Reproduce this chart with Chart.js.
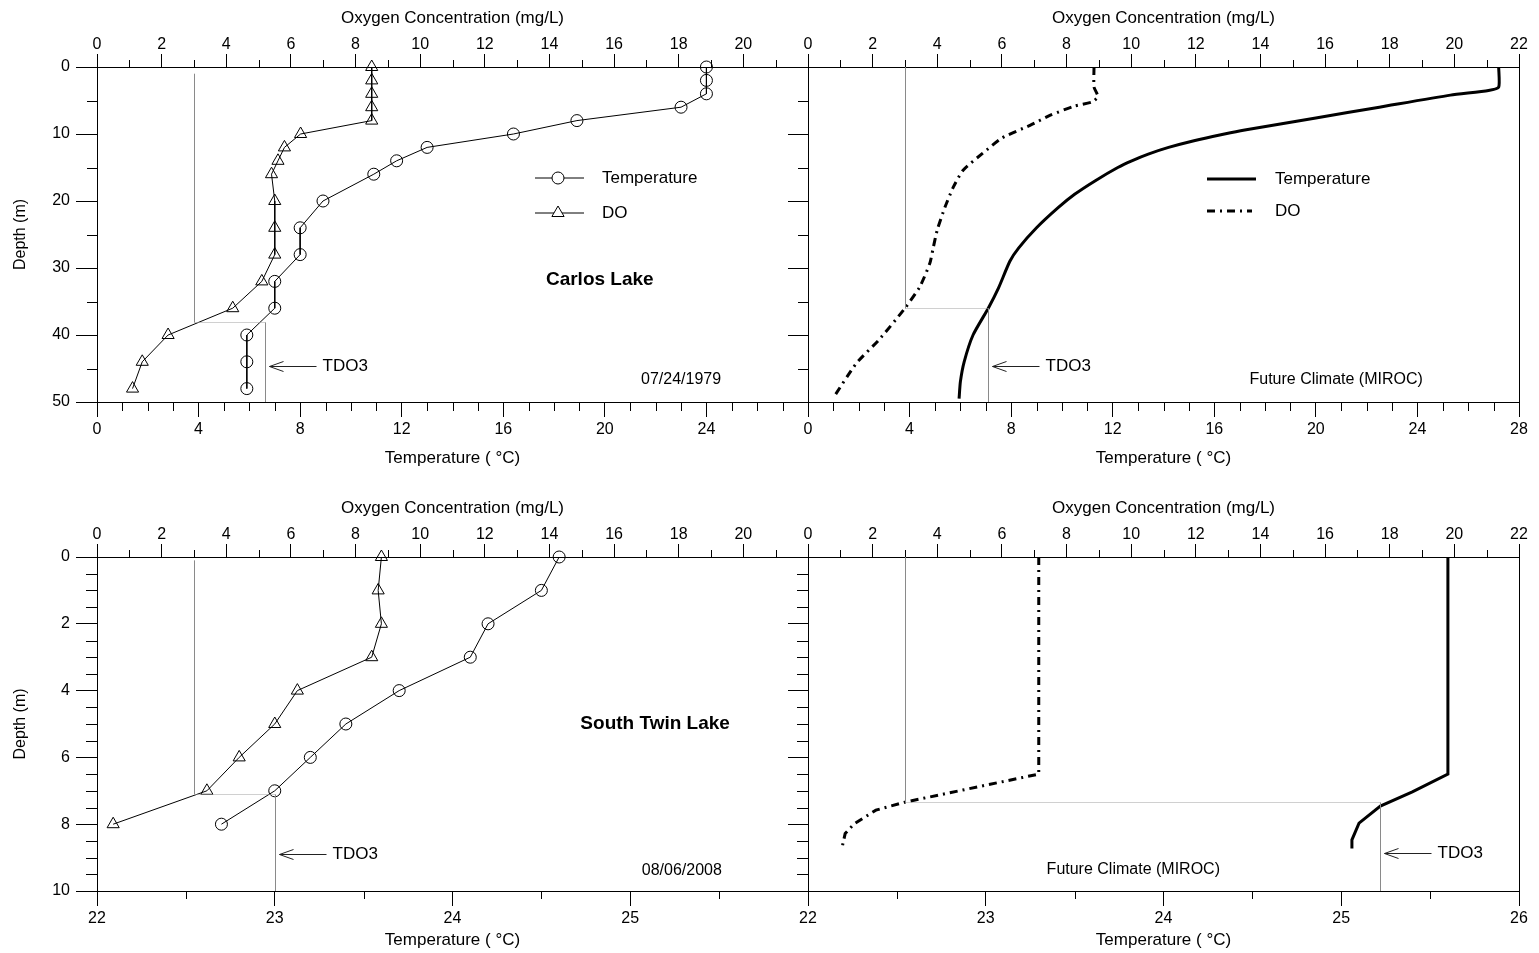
<!DOCTYPE html>
<html>
<head>
<meta charset="utf-8">
<title>Temperature and DO profiles</title>
<script src="https://cdn.jsdelivr.net/npm/chart.js@4"></script>
<style>
  body { margin: 0; background: #fff; }
  canvas { position: absolute; }
</style>
</head>
<body>
<canvas id="carlosObs" width="840" height="475" style="left:0;top:0;width:840px;height:475px"></canvas>
<canvas id="carlosFuture" width="751" height="475" style="left:788px;top:0;width:751px;height:475px"></canvas>
<canvas id="twinObs" width="840" height="463" style="left:0;top:490px;width:840px;height:463px"></canvas>
<canvas id="twinFuture" width="751" height="463" style="left:788px;top:490px;width:751px;height:463px"></canvas>
<script>
// tick labels
const oxygenTicks = [0, 2, 4, 6, 8, 10, 12, 14, 16, 18, 20, 22];
const coldTempTicks = [0, 4, 8, 12, 16, 20, 24, 28];
const warmTempTicks = [22, 23, 24, 25, 26];
const deepTicks = [0, 10, 20, 30, 40, 50];
const shallowTicks = [0, 2, 4, 6, 8, 10];

// Carlos Lake, measured 07/24/1979
const carlosDepth = [0, 2, 4, 6, 8, 10, 12, 14, 16, 20, 24, 28, 32, 36, 40, 44, 48];
const carlosTemp = [24, 24, 24, 23, 18.9, 16.4, 13, 11.8, 10.9, 8.9, 8, 8, 7, 7, 5.9, 5.9, 5.9];
const carlosDO = [8.5, 8.5, 8.5, 8.5, 8.5, 6.3, 5.8, 5.6, 5.4, 5.5, 5.5, 5.5, 5.1, 4.2, 2.2, 1.4, 1.1];

// Carlos Lake, future climate (MIROC)
const carlosFutTempDepth = [0, 3, 3.5, 4.2, 6, 7.6, 9.4, 10, 11, 12, 13, 14, 15, 17, 19, 21, 24, 27, 29, 33, 36, 40, 44, 47, 49.5];
const carlosFutTemp = [27.2, 27.2, 26.8, 25.3, 22.5, 20, 17.2, 16.4, 15.2, 14.2, 13.4, 12.75, 12.2, 11.3, 10.5, 9.85, 9, 8.3, 7.95, 7.5, 7.1, 6.5, 6.15, 6, 5.95];
const carlosFutDODepth = [0, 3, 4.4, 5.2, 5.9, 7.2, 8.7, 10.6, 12.9, 15.4, 17.9, 20.9, 24.3, 27.1, 29.3, 32.8, 36, 40.7, 44.2, 49.4];
const carlosFutDO = [8.85, 8.85, 8.97, 8.8, 8.2, 7.5, 6.87, 6, 5.4, 4.8, 4.5, 4.24, 4, 3.87, 3.77, 3.46, 3, 2.2, 1.5, 0.78];

// South Twin Lake, measured 08/06/2008
const twinDepth = [0, 1, 2, 3, 4, 5, 6, 7, 8];
const twinTemp = [24.6, 24.5, 24.2, 24.1, 23.7, 23.4, 23.2, 23, 22.7];
const twinDO = [8.8, 8.7, 8.8, 8.5, 6.2, 5.5, 4.4, 3.4, 0.5];

// South Twin Lake, future climate (MIROC)
const twinFutTempDepth = [0, 6.5, 7.03, 7.46, 7.97, 8.47, 8.73];
const twinFutTemp = [25.6, 25.6, 25.4, 25.22, 25.1, 25.06, 25.06];
const twinFutDODepth = [0, 6.5, 7.34, 7.58, 7.98, 8.28, 8.63];
const twinFutDO = [7.14, 7.14, 3, 2.1, 1.44, 1.15, 1.07];

// TDO3 (temperature where DO = 3 mg/L), one per panel
const doLimit = 3;
const tdo3Depth = [38, 36, 7.1, 7.34];
const tdo3Temp = [6.6, 7.1, 23, 25.22];

Chart.defaults.font.family = 'Arial, "Liberation Sans", sans-serif';
Chart.defaults.font.size = 16;
Chart.defaults.color = '#000';

const fontFamily = 'Arial, "Liberation Sans", sans-serif';

let toPoints = function (xs, depths) {
  return depths.map((d, i) => ({ x: xs[i], y: d }));
};

let observedSets = function (temp, DO, depth) {
  const common = {
    showLine: true, borderColor: '#000', borderWidth: 1, clip: false,
    pointBorderColor: '#000', pointBorderWidth: 1, pointBackgroundColor: 'rgba(0,0,0,0)'
  };
  return [
    Object.assign({ label: 'Temperature', data: toPoints(temp, depth), xAxisID: 'x', pointStyle: 'circle', pointRadius: 6 }, common),
    Object.assign({ label: 'DO', data: toPoints(DO, depth), xAxisID: 'x2', pointStyle: 'triangle', pointRadius: 7 }, common)
  ];
};

let modelSets = function (temp, tempDepth, DO, doDepth, tension) {
  const common = { showLine: true, borderColor: '#000', borderWidth: 3, pointRadius: 0, clip: false, tension: tension };
  return [
    Object.assign({ label: 'Temperature', data: toPoints(temp, tempDepth), xAxisID: 'x' }, common),
    Object.assign({ label: 'DO', data: toPoints(DO, doDepth), xAxisID: 'x2', borderDash: [8, 5, 2, 5] }, common)
  ];
};

// short ticks between the labelled ones
let minorTicks = function (minor) {
  return {
    id: 'minorTicks',
    afterDraw(chart) {
      const { ctx, chartArea: a } = chart;
      ctx.save();
      ctx.strokeStyle = '#000';
      ctx.lineWidth = 1;
      ctx.beginPath();
      minor.forEach(([id, step, len]) => {
        const s = chart.scales[id];
        for (let k = 1; s.min + k * step < s.max; k++) {
          const v = s.min + k * step;
          if (s.ticks.some(t => Math.abs(t.value - v) < 1e-6)) continue;
          const p = Math.round(s.getPixelForValue(v)) + 0.5;
          if (id === 'y') { ctx.moveTo(a.left, p); ctx.lineTo(a.left - len, p); }
          else if (id === 'x') { ctx.moveTo(p, a.bottom); ctx.lineTo(p, a.bottom + len); }
          else { ctx.moveTo(p, a.top); ctx.lineTo(p, a.top - len); }
        }
      });
      ctx.stroke();
      ctx.restore();
    }
  };
};

// frame, TDO3 guides, notes and legend
let decor = function (p) {
  return {
    id: 'decor',
    afterDatasetsDraw(chart) {
      const { ctx, chartArea: a, scales } = chart;
      const sx = v => scales.x.getPixelForValue(v);
      const so = v => scales.x2.getPixelForValue(v);
      const sy = v => scales.y.getPixelForValue(v);
      const px = v => Math.round(v) + 0.5;
      ctx.save();
      ctx.lineWidth = 1;
      ctx.strokeStyle = '#000';
      ctx.beginPath();
      ctx.moveTo(px(a.right), a.top);
      ctx.lineTo(px(a.right), a.bottom);
      ctx.stroke();

      const xo = px(so(doLimit));
      const xt = px(sx(tdo3Temp[p.idx]));
      const yt = px(sy(tdo3Depth[p.idx]));
      ctx.strokeStyle = '#8a8a8a';
      ctx.beginPath();
      ctx.moveTo(xo, sy(p.guideTop));
      ctx.lineTo(xo, yt);
      ctx.moveTo(xt, yt);
      ctx.lineTo(xt, a.bottom);
      ctx.stroke();
      ctx.setLineDash([1, 1]);
      ctx.strokeStyle = '#a0a0a0';
      ctx.beginPath();
      ctx.moveTo(xo, yt);
      ctx.lineTo(xt, yt);
      ctx.stroke();
      ctx.setLineDash([]);

      const ya = px(sy(p.arrowDepth));
      ctx.strokeStyle = '#222';
      ctx.beginPath();
      ctx.moveTo(xt + 4, ya);
      ctx.lineTo(xt + 51, ya);
      ctx.moveTo(xt + 18, ya - 5);
      ctx.lineTo(xt + 4, ya);
      ctx.lineTo(xt + 18, ya + 5);
      ctx.stroke();
      ctx.fillStyle = '#000';
      ctx.textBaseline = 'middle';
      ctx.textAlign = 'left';
      ctx.font = '17px ' + fontFamily;
      ctx.fillText('TDO3', xt + 57, ya);

      ctx.textAlign = 'center';
      p.notes.forEach(n => {
        ctx.font = n[3] + ' ' + fontFamily;
        ctx.fillText(n[0], sx(n[1]), sy(n[2]));
      });

      if (p.legend) {
        const L = p.legend;
        const x0 = a.left + L.x, x1 = x0 + 49, xm = x0 + 23;
        const y1 = a.top + L.y1, y2 = a.top + L.y2;
        ctx.strokeStyle = '#000';
        ctx.lineWidth = L.markers ? 1 : 3;
        ctx.beginPath();
        ctx.moveTo(x0, y1);
        ctx.lineTo(x1, y1);
        ctx.stroke();
        if (!L.markers) ctx.setLineDash([8, 5, 2, 5]);
        ctx.beginPath();
        ctx.moveTo(x0, y2);
        ctx.lineTo(L.markers ? x1 : x1 - 4, y2);
        ctx.stroke();
        ctx.setLineDash([]);
        if (L.markers) {
          ctx.lineWidth = 1;
          ctx.fillStyle = '#fff';
          ctx.beginPath();
          ctx.arc(xm, y1, 6, 0, Math.PI * 2);
          ctx.fill();
          ctx.stroke();
          ctx.beginPath();
          ctx.moveTo(xm, y2 - 7);
          ctx.lineTo(xm + 6.1, y2 + 3.5);
          ctx.lineTo(xm - 6.1, y2 + 3.5);
          ctx.closePath();
          ctx.fill();
          ctx.stroke();
        }
        ctx.fillStyle = '#000';
        ctx.textAlign = 'left';
        ctx.font = '17px ' + fontFamily;
        ctx.fillText('Temperature', a.left + L.tx, y1);
        ctx.fillText('DO', a.left + L.tx, y2);
      }
      ctx.restore();
    }
  };
};

let profileChart = function (id, p) {
  const t = p.tempTicks;
  const d = p.depthTicks;
  const label = (ticks, i, v) => (p.left && i === ticks.length - 1) ? '' : String(v);
  return new Chart(document.getElementById(id), {
    type: 'scatter',
    data: { datasets: p.datasets },
    options: {
      responsive: false,
      animation: false,
      events: [],
      layout: { padding: { right: p.padRight } },
      plugins: { legend: { display: false }, tooltip: { enabled: false } },
      scales: {
        x: {
          type: 'linear', position: 'bottom', min: t[0], max: t[t.length - 1],
          afterBuildTicks: s => { s.ticks = t.map(v => ({ value: v })); },
          afterFit: s => { s.height = p.bottomH; },
          ticks: { padding: 3, maxRotation: 0, autoSkip: false, callback: (v, i) => label(t, i, v) },
          grid: { drawOnChartArea: false, tickLength: 15, color: '#000' },
          border: { color: '#000' },
          title: { display: true, text: 'Temperature ( °C)', font: { size: 17 }, padding: { top: 0, bottom: p.titleBottom } }
        },
        x2: {
          type: 'linear', position: 'top', min: 0, max: 22,
          afterBuildTicks: s => { s.ticks = oxygenTicks.map(v => ({ value: v })); },
          afterFit: s => { s.height = 67; },
          ticks: { padding: 0, maxRotation: 0, autoSkip: false, callback: (v, i) => label(oxygenTicks, i, v) },
          grid: { drawOnChartArea: false, tickLength: 13, color: '#000' },
          border: { color: '#000' },
          title: { display: true, text: 'Oxygen Concentration (mg/L)', font: { size: 17 }, padding: { top: 8, bottom: 0 } }
        },
        y: {
          type: 'linear', reverse: true, min: d[0], max: d[d.length - 1],
          afterBuildTicks: s => { s.ticks = d.map(v => ({ value: v })); },
          afterFit: s => { s.width = p.left ? 97 : 20; },
          ticks: { padding: 6, autoSkip: false, callback: v => p.left ? String(v) : '' },
          grid: { drawOnChartArea: false, tickLength: 21, color: '#000' },
          border: { color: '#000' },
          title: { display: p.left, text: 'Depth (m)', font: { size: 16 }, padding: { top: 11, bottom: 0 } }
        }
      }
    },
    plugins: [minorTicks(p.minor), decor(p)]
  });
};

profileChart('carlosObs', {
  idx: 0, left: true, padRight: 32, bottomH: 73, titleBottom: 6,
  tempTicks: coldTempTicks, depthTicks: deepTicks,
  datasets: observedSets(carlosTemp, carlosDO, carlosDepth),
  minor: [['x', 1, 9], ['x2', 1, 7], ['y', 5, 10]],
  guideTop: 1, arrowDepth: 44.7,
  notes: [['Carlos Lake', 19.8, 31.8, 'bold 19px'], ['07/24/1979', 23, 46.7, '16px']],
  legend: { x: 438, y1: 111, y2: 146, tx: 505, markers: true }
});

profileChart('carlosFuture', {
  idx: 1, left: false, padRight: 20, bottomH: 73, titleBottom: 6,
  tempTicks: coldTempTicks, depthTicks: deepTicks,
  datasets: modelSets(carlosFutTemp, carlosFutTempDepth, carlosFutDO, carlosFutDODepth, 0.2),
  minor: [['x', 1, 9], ['x2', 1, 7], ['y', 5, 10]],
  guideTop: 0, arrowDepth: 44.7,
  notes: [['Future Climate (MIROC)', 20.8, 46.7, '16px']],
  legend: { x: 399, y1: 112, y2: 144, tx: 467, markers: false }
});

profileChart('twinObs', {
  idx: 2, left: true, padRight: 32, bottomH: 62, titleBottom: 2,
  tempTicks: warmTempTicks, depthTicks: shallowTicks,
  datasets: observedSets(twinTemp, twinDO, twinDepth),
  minor: [['x', 0.5, 8], ['x2', 1, 7], ['y', 0.5, 11]],
  guideTop: 0.1, arrowDepth: 8.89,
  notes: [['South Twin Lake', 25.14, 5, 'bold 19px'], ['08/06/2008', 25.29, 9.4, '16px']],
  legend: null
});

profileChart('twinFuture', {
  idx: 3, left: false, padRight: 20, bottomH: 62, titleBottom: 2,
  tempTicks: warmTempTicks, depthTicks: shallowTicks,
  datasets: modelSets(twinFutTemp, twinFutTempDepth, twinFutDO, twinFutDODepth, 0),
  minor: [['x', 0.5, 8], ['x2', 1, 7], ['y', 0.5, 11]],
  guideTop: 0, arrowDepth: 8.86,
  notes: [['Future Climate (MIROC)', 23.83, 9.37, '16px']],
  legend: null
});
</script>
</body>
</html>
